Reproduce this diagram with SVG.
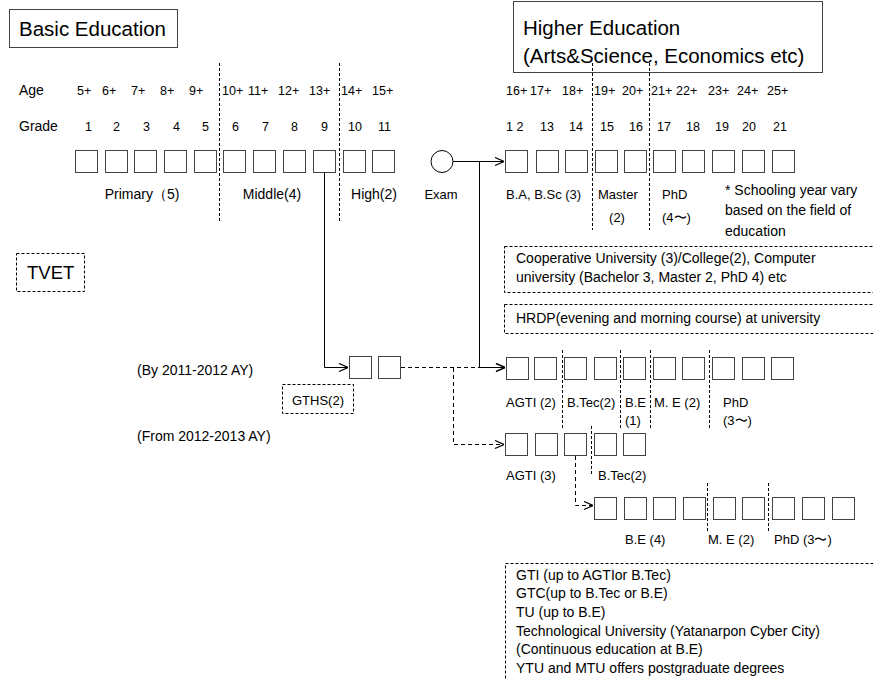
<svg xmlns="http://www.w3.org/2000/svg" width="873" height="680" viewBox="0 0 873 680">
<defs>
<style>
text{font-family:"Liberation Sans",Arial,sans-serif;fill:#000}
.t{font-size:14px}
.s{font-size:13px}
.n{font-size:12.5px}
.h{font-size:20.5px}
.tv{font-size:18.5px}
.b{fill:#fff;stroke:#444;stroke-width:1}
.d{stroke:#000;stroke-width:1;stroke-dasharray:3,2;fill:none}
.db{fill:none;stroke:#000;stroke-width:1;stroke-dasharray:3,2}
.c{fill:none;stroke:#000;stroke-width:1}
.cd{fill:none;stroke:#000;stroke-width:1;stroke-dasharray:4,3}
</style>
<marker id="ar" viewBox="0 0 10 10" refX="10" refY="5" markerWidth="10" markerHeight="10" markerUnits="userSpaceOnUse" orient="auto">
<polyline points="1,1 10,5 1,9" fill="none" stroke="#000" stroke-width="1.2"/>
</marker>
</defs>
<rect width="873" height="680" fill="#fff"/>

<g id="basic-header">
<rect x="9.5" y="9.5" width="168" height="38" fill="none" stroke="#444"/>
<text class="h" x="19" y="36">Basic Education</text>
</g>
<g id="higher-header">
<rect x="513.5" y="1.5" width="309" height="71" fill="none" stroke="#444"/>
<text class="h" x="523" y="35">Higher Education</text>
<text class="h" x="523" y="63">(Arts&amp;Science, Economics etc)</text>
</g>

<g id="dividers">
<line class="d" x1="219.5" y1="63" x2="219.5" y2="222"/>
<line class="d" x1="339.5" y1="63" x2="339.5" y2="222"/>
<line class="d" x1="592.5" y1="63" x2="592.5" y2="230"/>
<line class="d" x1="649.5" y1="63" x2="649.5" y2="230"/>
<line class="d" x1="562.5" y1="350" x2="562.5" y2="428"/>
<line class="d" x1="620.5" y1="350" x2="620.5" y2="428"/>
<line class="d" x1="650.5" y1="350" x2="650.5" y2="428"/>
<line class="d" x1="709.5" y1="350" x2="709.5" y2="428"/>
<line class="d" x1="591.5" y1="426" x2="591.5" y2="475"/>
<line class="d" x1="707.5" y1="483" x2="707.5" y2="532"/>
<line class="d" x1="768.5" y1="483" x2="768.5" y2="532"/>
</g>

<g id="age-row">
<text class="t" x="19" y="95">Age</text>
<text class="n" x="77" y="95">5+</text>
<text class="n" x="102" y="95">6+</text>
<text class="n" x="131" y="95">7+</text>
<text class="n" x="160" y="95">8+</text>
<text class="n" x="189" y="95">9+</text>
<text class="n" x="222" y="95">10+</text>
<text class="n" x="248" y="95">11+</text>
<text class="n" x="278" y="95">12+</text>
<text class="n" x="309" y="95">13+</text>
<text class="n" x="341" y="95">14+</text>
<text class="n" x="372" y="95">15+</text>
<text class="n" x="506" y="95">16+</text>
<text class="n" x="530" y="95">17+</text>
<text class="n" x="562" y="95">18+</text>
<text class="n" x="594" y="95">19+</text>
<text class="n" x="622" y="95">20+</text>
<text class="n" x="651" y="95">21+</text>
<text class="n" x="676" y="95">22+</text>
<text class="n" x="708" y="95">23+</text>
<text class="n" x="737" y="95">24+</text>
<text class="n" x="767" y="95">25+</text>
</g>

<g id="grade-row">
<text class="t" x="19" y="131">Grade</text>
<text class="n" x="85" y="131">1</text>
<text class="n" x="113" y="131">2</text>
<text class="n" x="143" y="131">3</text>
<text class="n" x="173" y="131">4</text>
<text class="n" x="202" y="131">5</text>
<text class="n" x="232" y="131">6</text>
<text class="n" x="262" y="131">7</text>
<text class="n" x="291" y="131">8</text>
<text class="n" x="321" y="131">9</text>
<text class="n" x="348" y="131">10</text>
<text class="n" x="378" y="131">11</text>
<text class="n" x="506" y="131">1 2</text>
<text class="n" x="540" y="131">13</text>
<text class="n" x="569" y="131">14</text>
<text class="n" x="600" y="131">15</text>
<text class="n" x="629" y="131">16</text>
<text class="n" x="657" y="131">17</text>
<text class="n" x="686" y="131">18</text>
<text class="n" x="715" y="131">19</text>
<text class="n" x="742" y="131">20</text>
<text class="n" x="773" y="131">21</text>
</g>

<g id="basic-boxes">
<rect class="b" x="75.5" y="150.5" width="22" height="22"/>
<rect class="b" x="105.5" y="150.5" width="22" height="22"/>
<rect class="b" x="134.5" y="150.5" width="22" height="22"/>
<rect class="b" x="164.5" y="150.5" width="22" height="22"/>
<rect class="b" x="194.5" y="150.5" width="22" height="22"/>
<rect class="b" x="223.5" y="150.5" width="22" height="22"/>
<rect class="b" x="253.5" y="150.5" width="22" height="22"/>
<rect class="b" x="283.5" y="150.5" width="22" height="22"/>
<rect class="b" x="313.5" y="150.5" width="22" height="22" stroke="#000"/>
<rect class="b" x="343.5" y="150.5" width="22" height="22"/>
<rect class="b" x="372.5" y="150.5" width="22" height="22"/>
<text class="t" x="142" y="199" text-anchor="middle">Primary（5)</text>
<text class="t" x="272" y="199" text-anchor="middle">Middle(4)</text>
<text class="t" x="374" y="199" text-anchor="middle">High(2)</text>
</g>

<g id="exam">
<circle cx="442" cy="161.5" r="11" fill="#fff" stroke="#000"/>
<text class="s" x="441" y="199" text-anchor="middle">Exam</text>
</g>

<g id="higher-boxes">
<rect class="b" x="505.5" y="150.5" width="22" height="22"/>
<rect class="b" x="536.5" y="150.5" width="22" height="22"/>
<rect class="b" x="565.5" y="150.5" width="22" height="22"/>
<rect class="b" x="595.5" y="150.5" width="22" height="22"/>
<rect class="b" x="624.5" y="150.5" width="22" height="22"/>
<rect class="b" x="653.5" y="150.5" width="22" height="22"/>
<rect class="b" x="682.5" y="150.5" width="22" height="22"/>
<rect class="b" x="712.5" y="150.5" width="22" height="22"/>
<rect class="b" x="742.5" y="150.5" width="22" height="22"/>
<rect class="b" x="772.5" y="150.5" width="22" height="22"/>
<text class="s" x="506" y="199">B.A, B.Sc (3)</text>
<text class="s" x="598" y="199">Master</text>
<text class="s" x="617" y="222" text-anchor="middle">(2)</text>
<text class="s" x="662" y="199">PhD</text>
<text class="s" x="662" y="222">(4〜)</text>
<text class="t" x="725" y="195">* Schooling year vary</text>
<text class="t" x="725" y="215">based on the field of</text>
<text class="t" x="725" y="236">education</text>
</g>

<g id="tvet">
<rect class="db" x="16.5" y="253.5" width="68" height="38"/>
<text class="tv" x="27" y="279">TVET</text>
</g>

<g id="cooperative">
<rect class="db" x="504.5" y="246.5" width="380" height="46"/>
<text class="t" x="516" y="263">Cooperative University (3)/College(2), Computer</text>
<text class="t" x="516" y="282">university (Bachelor 3, Master 2, PhD 4) etc</text>
</g>

<g id="hrdp">
<rect class="db" x="504.5" y="304.5" width="380" height="29"/>
<text class="t" x="516" y="323">HRDP(evening and morning course) at university</text>
</g>

<g id="periods">
<text class="t" x="137" y="375">(By 2011-2012  AY)</text>
<text class="t" x="137" y="441">(From 2012-2013  AY)</text>
</g>

<g id="gths">
<rect class="b" x="349.5" y="356.5" width="22" height="22"/>
<rect class="b" x="378.5" y="356.5" width="22" height="22"/>
<rect class="db" x="282.5" y="384.5" width="71" height="29"/>
<text class="s" x="318" y="405" text-anchor="middle">GTHS(2)</text>
</g>

<g id="agti2-row">
<rect class="b" x="506.5" y="357.5" width="22" height="22"/>
<rect class="b" x="534.5" y="357.5" width="22" height="22"/>
<rect class="b" x="564.5" y="357.5" width="22" height="22"/>
<rect class="b" x="594.5" y="357.5" width="22" height="22"/>
<rect class="b" x="623.5" y="357.5" width="22" height="22"/>
<rect class="b" x="653.5" y="357.5" width="22" height="22"/>
<rect class="b" x="682.5" y="357.5" width="22" height="22"/>
<rect class="b" x="712.5" y="357.5" width="22" height="22"/>
<rect class="b" x="742.5" y="357.5" width="22" height="22"/>
<rect class="b" x="771.5" y="357.5" width="22" height="22"/>
<text class="s" x="506" y="407">AGTI (2)</text>
<text class="s" x="567" y="407">B.Tec(2)</text>
<text class="s" x="625" y="407">B.E</text>
<text class="s" x="625" y="425">(1)</text>
<text class="s" x="654" y="407">M. E (2)</text>
<text class="s" x="723" y="407">PhD</text>
<text class="s" x="723" y="425">(3〜)</text>
</g>

<g id="agti3-row">
<rect class="b" x="505.5" y="433.5" width="22" height="22"/>
<rect class="b" x="535.5" y="433.5" width="22" height="22"/>
<rect class="b" x="564.5" y="433.5" width="22" height="22"/>
<rect class="b" x="594.5" y="433.5" width="22" height="22"/>
<rect class="b" x="623.5" y="433.5" width="22" height="22"/>
<text class="s" x="506" y="480">AGTI (3)</text>
<text class="s" x="598" y="480">B.Tec(2)</text>
</g>

<g id="be-row">
<rect class="b" x="594.5" y="497.5" width="22" height="22"/>
<rect class="b" x="624.5" y="497.5" width="22" height="22"/>
<rect class="b" x="653.5" y="497.5" width="22" height="22"/>
<rect class="b" x="683.5" y="497.5" width="22" height="22"/>
<rect class="b" x="713.5" y="497.5" width="22" height="22"/>
<rect class="b" x="742.5" y="497.5" width="22" height="22"/>
<rect class="b" x="772.5" y="497.5" width="22" height="22"/>
<rect class="b" x="802.5" y="497.5" width="22" height="22"/>
<rect class="b" x="832.5" y="497.5" width="22" height="22"/>
<text class="s" x="625" y="544">B.E (4)</text>
<text class="s" x="708" y="544">M. E (2)</text>
<text class="s" x="774" y="544">PhD (3〜)</text>
</g>

<g id="institutions">
<rect class="db" x="505.5" y="563.5" width="380" height="130"/>
<text class="t" x="516" y="580">GTI (up to AGTIor B.Tec)</text>
<text class="t" x="516" y="598">GTC(up to B.Tec or B.E)</text>
<text class="t" x="516" y="617">TU (up to B.E)</text>
<text class="t" x="516" y="636">Technological University (Yatanarpon Cyber City)</text>
<text class="t" x="516" y="654">(Continuous education at B.E)</text>
<text class="t" x="516" y="673">YTU and MTU offers postgraduate degrees</text>
</g>

<g id="connectors">
<polyline class="c" points="324.5,172 324.5,367.5 348,367.5" marker-end="url(#ar)"/>
<polyline class="c" points="453,161.5 504,161.5" marker-end="url(#ar)"/>
<polyline class="c" points="479.5,161.5 479.5,367.5 505,367.5" marker-end="url(#ar)"/>
<polyline class="cd" points="401,367.5 505,367.5" marker-end="url(#ar)"/>
<polyline class="cd" points="453.5,368 453.5,444.5 504,444.5" marker-end="url(#ar)"/>
<polyline class="cd" points="575.5,456 575.5,505.5 593,505.5" marker-end="url(#ar)"/>
</g>
</svg>
